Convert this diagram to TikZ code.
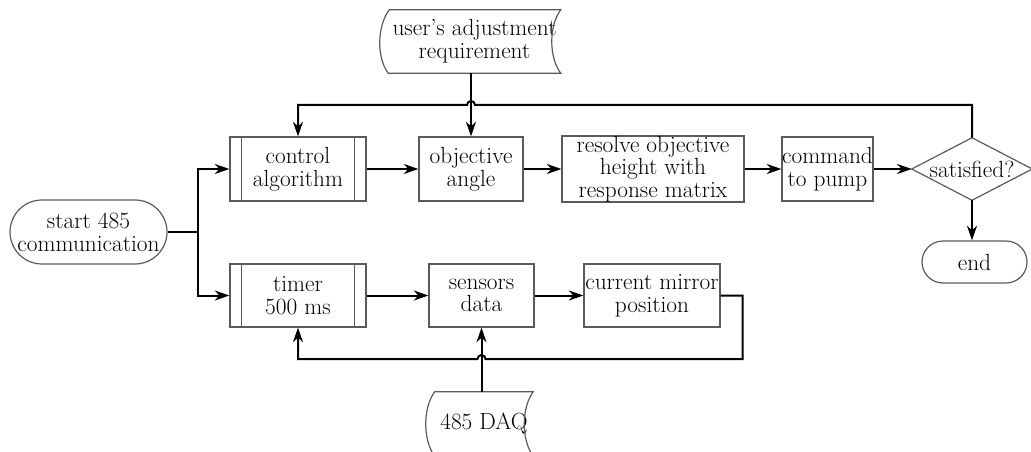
\documentclass[tikz,border=0pt]{standalone}
\usetikzlibrary{arrows.meta,shapes.misc,calc}
\definecolor{boxgray}{HTML}{5A5A5A}
\newcommand{\mainfs}{\fontsize{17.5pt}{17pt}\selectfont}
\begin{document}
\begin{tikzpicture}[x=0.75pt,y=0.75pt,
  box/.style={draw=boxgray, line width=0.9pt, inner sep=0pt, align=center, font=\mainfs},
  plain/.style={inner sep=0pt, align=center, font=\mainfs},
  term/.style={box, rounded rectangle},
  boxline/.style={draw=boxgray, line width=0.9pt},
  conn/.style={line width=1.5pt, draw=black},
  arr/.style={conn, -{Stealth[length=11pt,width=7.5pt,inset=3.5pt]}}
]
\useasboundingbox (0,0) rectangle (1031,-452);

% nodes
\node[term, minimum width=117.75pt, minimum height=48pt] (start) at (88.5,-232) {start 485\\communication};
\node[box, minimum width=102pt, minimum height=48pt] (ctrl) at (298,-169) {control\\algorithm};
\node[box, minimum width=78pt, minimum height=48pt] (obj) at (471,-169) {objective\\angle};
\node[box, minimum width=136.5pt, minimum height=48pt] (res) at (653,-169) {resolve objective\\height with\\response matrix};
\node[box, minimum width=68.25pt, minimum height=48pt] (cmd) at (827.5,-169) {command\\to pump};
\node[plain, minimum width=90pt, minimum height=46.5pt] (sat) at (972,-169) {satisfied?};
\node[term, minimum width=78.75pt, minimum height=31.5pt] (end) at (974.5,-262) {end};
\node[box, minimum width=102pt, minimum height=47.25pt] (timer) at (298,-295.5) {timer\\500 ms};
\node[box, minimum width=78.75pt, minimum height=47.25pt] (sens) at (481.5,-295.5) {sensors\\data};
\node[box, minimum width=102pt, minimum height=47.25pt] (cur) at (652,-295.5) {current mirror\\position};
\node[plain, minimum width=117.75pt, minimum height=47.25pt] (ua) at (474.5,-41.5) {user's adjustment\\requirement};
\node[plain, minimum width=73.5pt, minimum height=48pt] (daq) at (484,-424) {485 DAQ};

% shape details
\draw[boxline] (sat.north) -- (sat.east) -- (sat.south) -- (sat.west) -- cycle;
\foreach \n in {ctrl,timer}{
  \draw[boxline] ($(\n.north west)+(12,0)$) -- ($(\n.south west)+(12,0)$);
  \draw[boxline] ($(\n.north east)+(-12,0)$) -- ($(\n.south east)+(-12,0)$);
}
\draw[boxline] ($(ua.north west)+(-3,0)$) -- ($(ua.north east)+(4,0)$)
  .. controls +(-12,-16) and +(-12,16) .. ($(ua.south east)+(4,0)$)
  -- ($(ua.south west)+(-4,0)$)
  .. controls +(-12,16) and +(-12,-16) .. ($(ua.north west)+(-3,0)$);
\draw[boxline] (daq.north west) -- (daq.north east)
  .. controls +(-12,-16) and +(-12,16) .. (daq.south east)
  -- (daq.south west)
  .. controls +(-12,16) and +(-12,-16) .. (daq.north west);

% connectors
\coordinate (j) at (198,-232);
\coordinate (loopy) at (0,-105);
\coordinate (boty) at (0,-359);
\coordinate (hopA) at (obj.north |- loopy);
\coordinate (hopB) at (sens.south |- boty);
\coordinate (cr) at ($(cur.east)+(22,0)$);

\draw[conn] (start.east) -- (j);
\draw[arr] (j) |- (ctrl.west);
\draw[arr] (j) |- (timer.west);
\draw[arr] (ctrl.east) -- (obj.west);
\draw[arr] (obj.east) -- (res.west);
\draw[arr] (res.east) -- (cmd.west);
\draw[arr] (cmd.east) -- (sat.west);
\draw[arr] (sat.south) -- (sat.south |- end.north);
\draw[arr] (obj.north |- ua.south) -- (obj.north);
\draw[arr] (sat.north) |- ([xshift=3pt]hopA) arc[start angle=0,end angle=180,radius=3pt] -| (ctrl.north);
\draw[arr] (timer.east) -- (sens.west);
\draw[arr] (sens.east) -- (cur.west);
\draw[arr] (cur.east) -- (cr) |- ([xshift=3pt]hopB) arc[start angle=0,end angle=180,radius=3pt] -| (timer.south);
\draw[arr] (sens.south |- daq.north) -- (sens.south);
\end{tikzpicture}
\end{document}
